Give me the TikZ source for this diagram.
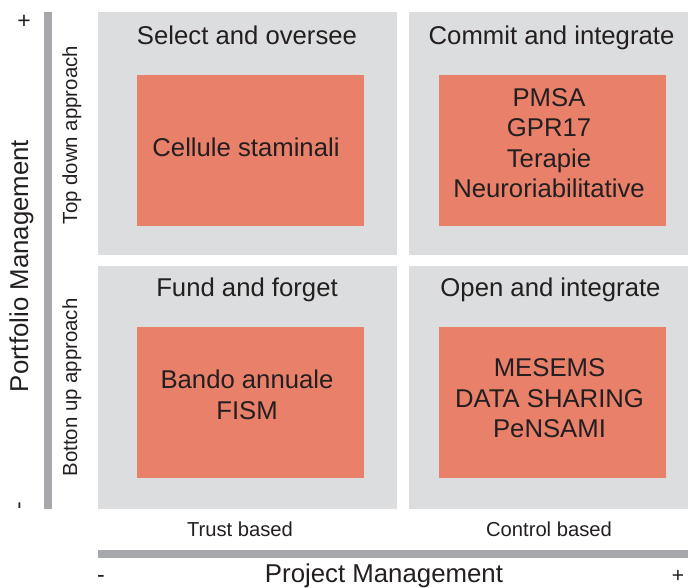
\documentclass[tikz,border=0pt]{standalone}
\usepackage{fontspec}
\setmainfont{Liberation Sans}
\definecolor{quadgrey}{HTML}{DCDDDE}
\definecolor{salmon}{HTML}{E8806A}
\definecolor{bargrey}{HTML}{A7A8AB}
\definecolor{ink}{HTML}{231F20}
\begin{document}
\begin{tikzpicture}[x=1pt,y=-1pt,
  quadbox/.style={fill=quadgrey,draw=none,inner sep=0,minimum height=243},
  projbox/.style={fill=salmon,draw=none,inner sep=0,minimum width=227,minimum height=151},
  barbox/.style={fill=bargrey,draw=none,inner sep=0},
  header/.style={text=ink,inner sep=0,anchor=base,font=\fontsize{25.7}{30}\selectfont},
  boxtext/.style={text=ink,inner sep=0,align=center,font=\fontsize{25.7}{30.5}\selectfont},
  axistitle/.style={text=ink,inner sep=0,anchor=base,font=\fontsize{25.8}{30}\selectfont},
  sidetext/.style={text=ink,inner sep=0,anchor=base,rotate=90,font=\fontsize{20.4}{24}\selectfont},
  ticktext/.style={text=ink,inner sep=0,font=\fontsize{20.2}{24}\selectfont},
  signtext/.style={text=ink,inner sep=0,font=\fontsize{23}{26}\selectfont}]
\useasboundingbox (0,0) rectangle (688,588);
% quadrants
\node[quadbox,minimum width=299] (qtl) at (247.5,133.5) {};
\node[quadbox,minimum width=279] (qtr) at (548.5,133.5) {};
\node[quadbox,minimum width=299] (qbl) at (247.5,387.5) {};
\node[quadbox,minimum width=279] (qbr) at (548.5,387.5) {};
% bars
\node[barbox,minimum width=8,minimum height=497] (lbar) at (48,260.5) {};
\node[barbox,minimum width=590,minimum height=8] (bbar) at (393,554) {};
% headers
\node[header] (htl) at (247,45) {Select and oversee};
\node[header] (htr) at (551.5,45) {Commit and integrate};
\node[header] (hbl) at (247,296) {Fund and forget};
\node[header] (hbr) at (550.5,296) {Open and integrate};
% salmon boxes
\node[projbox] (ptl) at (250.5,150.5) {};
\node[projbox] (ptr) at (552.5,150.5) {};
\node[projbox] (pbl) at (250.5,402.5) {};
\node[projbox] (pbr) at (552.5,402.5) {};
\node[header] (ttl) at (246,157) {Cellule staminali};
\node[boxtext] (ttr) at (549,143.3) {PMSA\\GPR17\\Terapie\\Neuroriabilitative};
\node[boxtext] (tbl) at (247,395) {Bando annuale\\FISM};
\node[boxtext] (tbr) at (549.5,398.5) {MESEMS\\DATA SHARING\\PeNSAMI};
% side labels
\node[sidetext] (stop) at (77,135) {Top down approach};
\node[sidetext] (sbot) at (77,387.5) {Botton up approach};
\node[axistitle,rotate=90] (ypm) at (28,266) {Portfolio Management};
\node[signtext] (yplus) at (24,22) {+};
\node[signtext,rotate=90] (yminus) at (22,506) {-};
% bottom labels
\node[ticktext,anchor=base] (trust) at (240,536) {Trust based};
\node[ticktext,anchor=base] (control) at (549,536) {Control based};
\node[axistitle] (xpm) at (384,582) {Project Management};
\node[signtext] (xminus) at (101,579) {-};
\node[signtext,font=\fontsize{21}{24}\selectfont] (xplus) at (678,576) {+};
\end{tikzpicture}
\end{document}
